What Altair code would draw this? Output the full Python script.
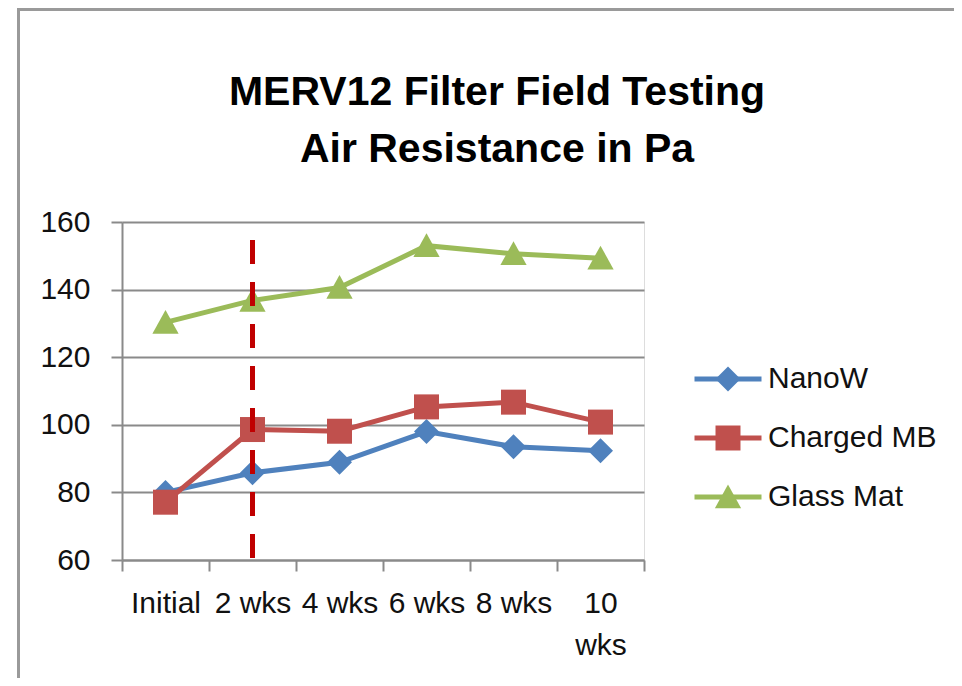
import altair as alt
import pandas as pd

categories = ["Initial", "2 wks", "4 wks", "6 wks", "8 wks", "10 wks"]
series_names = ["NanoW", "Charged MB", "Glass Mat"]
nanow = [80.0, 85.8, 88.9, 98.0, 93.5, 92.3]
charged_mb = [77.1, 98.6, 98.1, 105.3, 106.7, 100.8]
glass_mat = [130.3, 136.8, 140.6, 153.0, 150.6, 149.3]
colors = ["#4F81BD", "#C0504D", "#9BBB59"]
marker_shapes = ["diamond", "square", "M0,-1L1.05,0.9L-1.05,0.9Z"]
y_ticks = [60, 80, 100, 120, 140, 160]
marker_category = ["2 wks"]
marker_top = [154.7]
title_lines = ["MERV12 Filter Field Testing", "Air Resistance in Pa"]

rows = []
for name, vals in zip(series_names, [nanow, charged_mb, glass_mat]):
    for i, (c, v) in enumerate(zip(categories, vals)):
        rows.append({"Week": c, "idx": i, "Series": name, "LineSeries": name, "Value": v})
df = pd.DataFrame(rows)
rule_df = pd.DataFrame({"Week": marker_category, "Top": marker_top, "Bottom": [y_ticks[0]]})

FONT = "Liberation Sans"
W, H = 522, 338
LFS = 30

x_enc = alt.X(
    "Week:N",
    sort=categories,
    scale=alt.Scale(domain=categories, paddingInner=0, paddingOuter=0),
    axis=alt.Axis(
        title=None,
        tickBand="extent",
        tickSize=11,
        tickWidth=2,
        tickColor="#8a8a8a",
        domainColor="#8a8a8a",
        domainWidth=2,
        labelFont=FONT,
        labelFontSize=LFS,
        labelColor="#111111",
        labelPadding=17,
        labelAngle=0,
        labelLineHeight=42,
        labelBaseline="top",
        labelExpr="datum.value == '10 wks' ? ['10', 'wks'] : datum.value",
        grid=False,
    ),
)
y_enc = alt.Y(
    "Value:Q",
    scale=alt.Scale(domain=[60, 160], nice=False, zero=False),
    axis=alt.Axis(
        title=None,
        values=y_ticks,
        tickSize=11,
        tickWidth=2,
        tickColor="#8a8a8a",
        domainColor="#8a8a8a",
        domainWidth=2,
        gridColor="#8a8a8a",
        gridWidth=2,
        labelFont=FONT,
        labelFontSize=LFS,
        labelColor="#111111",
        labelPadding=21,
    ),
)

base = alt.Chart(df)

lines = base.mark_line(strokeWidth=5).encode(
    x=x_enc,
    y=y_enc,
    stroke=alt.Stroke(
        "LineSeries:N",
        sort=series_names,
        scale=alt.Scale(range=colors),
        legend=alt.Legend(
            title=None,
            orient="none",
            legendX=591,
            legendY=142,
            padding=0,
            symbolType="M-2.68,0L2.68,0",
            symbolSize=625,
            symbolStrokeWidth=5,
            labelFont=FONT,
            labelFontSize=LFS,
            labelColor="#111111",
            labelOffset=25,
            labelLimit=400,
            rowPadding=29,
            zindex=1,
        ),
    ),
    order=alt.Order("idx:Q"),
    detail="Series:N",
)

points = base.mark_point(filled=True, opacity=1, size=625, strokeWidth=0).encode(
    x=alt.X("Week:N", sort=categories),
    y=alt.Y("Value:Q"),
    color=alt.Color(
        "Series:N",
        scale=alt.Scale(domain=series_names, range=colors),
        legend=alt.Legend(
            title=None,
            orient="none",
            legendX=591,
            legendY=142,
            padding=0,
            symbolSize=625,
            symbolStrokeWidth=0,
            symbolOpacity=1,
            labelFont=FONT,
            labelFontSize=LFS,
            labelOpacity=0,
            labelOffset=25,
            labelLimit=400,
            rowPadding=29,
            zindex=2,
        ),
    ),
    shape=alt.Shape(
        "Series:N",
        scale=alt.Scale(domain=series_names, range=marker_shapes),
    ),
)

rule = alt.Chart(rule_df).mark_rule(
    color="#C00000", strokeWidth=5, strokeDash=[24, 18]
).encode(
    x=alt.X("Week:N", sort=categories),
    y=alt.Y("Top:Q"),
    y2="Bottom:Q",
)

frame_left = alt.Chart(rule_df).mark_rule(color="#9a9a9a", strokeWidth=3).encode(
    x=alt.value(-103.5), y=alt.value(-213), y2=alt.value(470)
)
frame_top = alt.Chart(rule_df).mark_rule(color="#9a9a9a", strokeWidth=3).encode(
    x=alt.value(-105), x2=alt.value(840), y=alt.value(-212.5)
)

title_df = pd.DataFrame({"line": title_lines, "pos": [0, 1]})
title1 = alt.Chart(title_df).transform_filter("datum.pos == 0").mark_text(
    font=FONT, fontSize=41, fontWeight="bold", color="#000000",
    align="center", baseline="alphabetic",
).encode(text="line:N", x=alt.value(375), y=alt.value(-117))
title2 = alt.Chart(title_df).transform_filter("datum.pos == 1").mark_text(
    font=FONT, fontSize=41, fontWeight="bold", color="#000000",
    align="center", baseline="alphabetic",
).encode(text="line:N", x=alt.value(375), y=alt.value(-60))

chart = alt.layer(frame_left, frame_top, title1, title2, lines, points, rule).properties(
    width=W,
    height=H,
    autosize=alt.AutoSizeParams(type="none"),
    padding={"left": 114, "top": 214, "right": 310, "bottom": 118},
).configure_view(stroke="transparent").configure(background="white")

chart.save("out.html", embed_options={"renderer": "svg", "actions": False})
